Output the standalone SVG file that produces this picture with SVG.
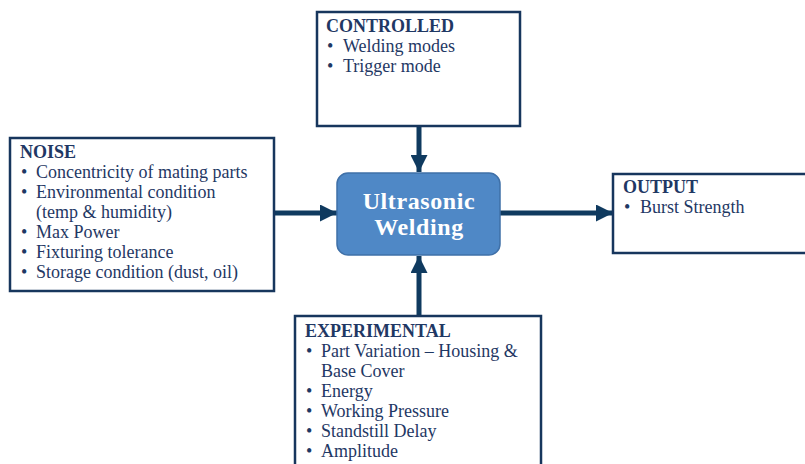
<svg xmlns="http://www.w3.org/2000/svg" width="805" height="464" viewBox="0 0 805 464">
<defs>
<style>
.box{fill:#fff;stroke:#17365d;stroke-width:2.5}
.t{font-family:"Liberation Serif","DejaVu Serif",serif;font-size:18px;fill:#1f3864}
.h{font-weight:bold;font-size:18px}
.c{font-family:"Liberation Serif","DejaVu Serif",serif;font-size:24px;letter-spacing:0.6px;font-weight:bold;fill:#fff;text-anchor:middle}
.ln{stroke:#0f3a5f;stroke-width:5;fill:none}
</style>
<marker id="ah" viewBox="0 0 10 10" refX="10" refY="5" markerWidth="3.4" markerHeight="3.4" markerUnits="strokeWidth" orient="auto">
<path d="M0,0 L10,5 L0,10 z" fill="#0f3a5f"/>
</marker>
</defs>
<rect width="805" height="464" fill="#fff"/>
<g id="connectors">
<line class="ln" x1="419" y1="127" x2="419" y2="172" marker-end="url(#ah)"/>
<line class="ln" x1="419" y1="315" x2="419" y2="256" marker-end="url(#ah)"/>
<line class="ln" x1="274" y1="213" x2="337" y2="213" marker-end="url(#ah)"/>
<line class="ln" x1="500" y1="213" x2="613" y2="213" marker-end="url(#ah)"/>
</g>
<g id="controlled">
<rect class="box" x="317" y="12" width="203" height="114"/>
<text class="t h" x="326" y="32">CONTROLLED</text>
<text class="t" x="327" y="52">•</text><text class="t" x="343" y="52">Welding modes</text>
<text class="t" x="327" y="72">•</text><text class="t" x="343" y="72">Trigger mode</text>
</g>
<g id="noise">
<rect class="box" x="10" y="138" width="264" height="153"/>
<text class="t h" x="20" y="158">NOISE</text>
<text class="t" x="21" y="178">•</text><text class="t" x="36" y="178">Concentricity of mating parts</text>
<text class="t" x="21" y="198">•</text><text class="t" x="36" y="198">Environmental condition</text>
<text class="t" x="36" y="218">(temp &amp; humidity)</text>
<text class="t" x="21" y="238">•</text><text class="t" x="36" y="238">Max Power</text>
<text class="t" x="21" y="258">•</text><text class="t" x="36" y="258">Fixturing tolerance</text>
<text class="t" x="21" y="278">•</text><text class="t" x="36" y="278">Storage condition (dust, oil)</text>
</g>
<g id="center">
<rect x="337" y="173" width="163" height="82" rx="11" fill="#4f88c6" stroke="#3f70a8" stroke-width="1.5"/>
<text class="c" x="419" y="209">Ultrasonic</text>
<text class="c" x="419" y="235">Welding</text>
</g>
<g id="output">
<rect class="box" x="613" y="174" width="200" height="79"/>
<text class="t h" x="623" y="193">OUTPUT</text>
<text class="t" x="624" y="213">•</text><text class="t" x="640" y="213">Burst Strength</text>
</g>
<g id="experimental">
<rect class="box" x="295" y="316" width="246" height="160"/>
<text class="t h" x="305" y="337">EXPERIMENTAL</text>
<text class="t" x="306" y="357">•</text><text class="t" x="321" y="357">Part Variation – Housing &amp;</text>
<text class="t" x="321" y="377">Base Cover</text>
<text class="t" x="306" y="397">•</text><text class="t" x="321" y="397">Energy</text>
<text class="t" x="306" y="417">•</text><text class="t" x="321" y="417">Working Pressure</text>
<text class="t" x="306" y="437">•</text><text class="t" x="321" y="437">Standstill Delay</text>
<text class="t" x="306" y="457">•</text><text class="t" x="321" y="457">Amplitude</text>
</g>
</svg>
